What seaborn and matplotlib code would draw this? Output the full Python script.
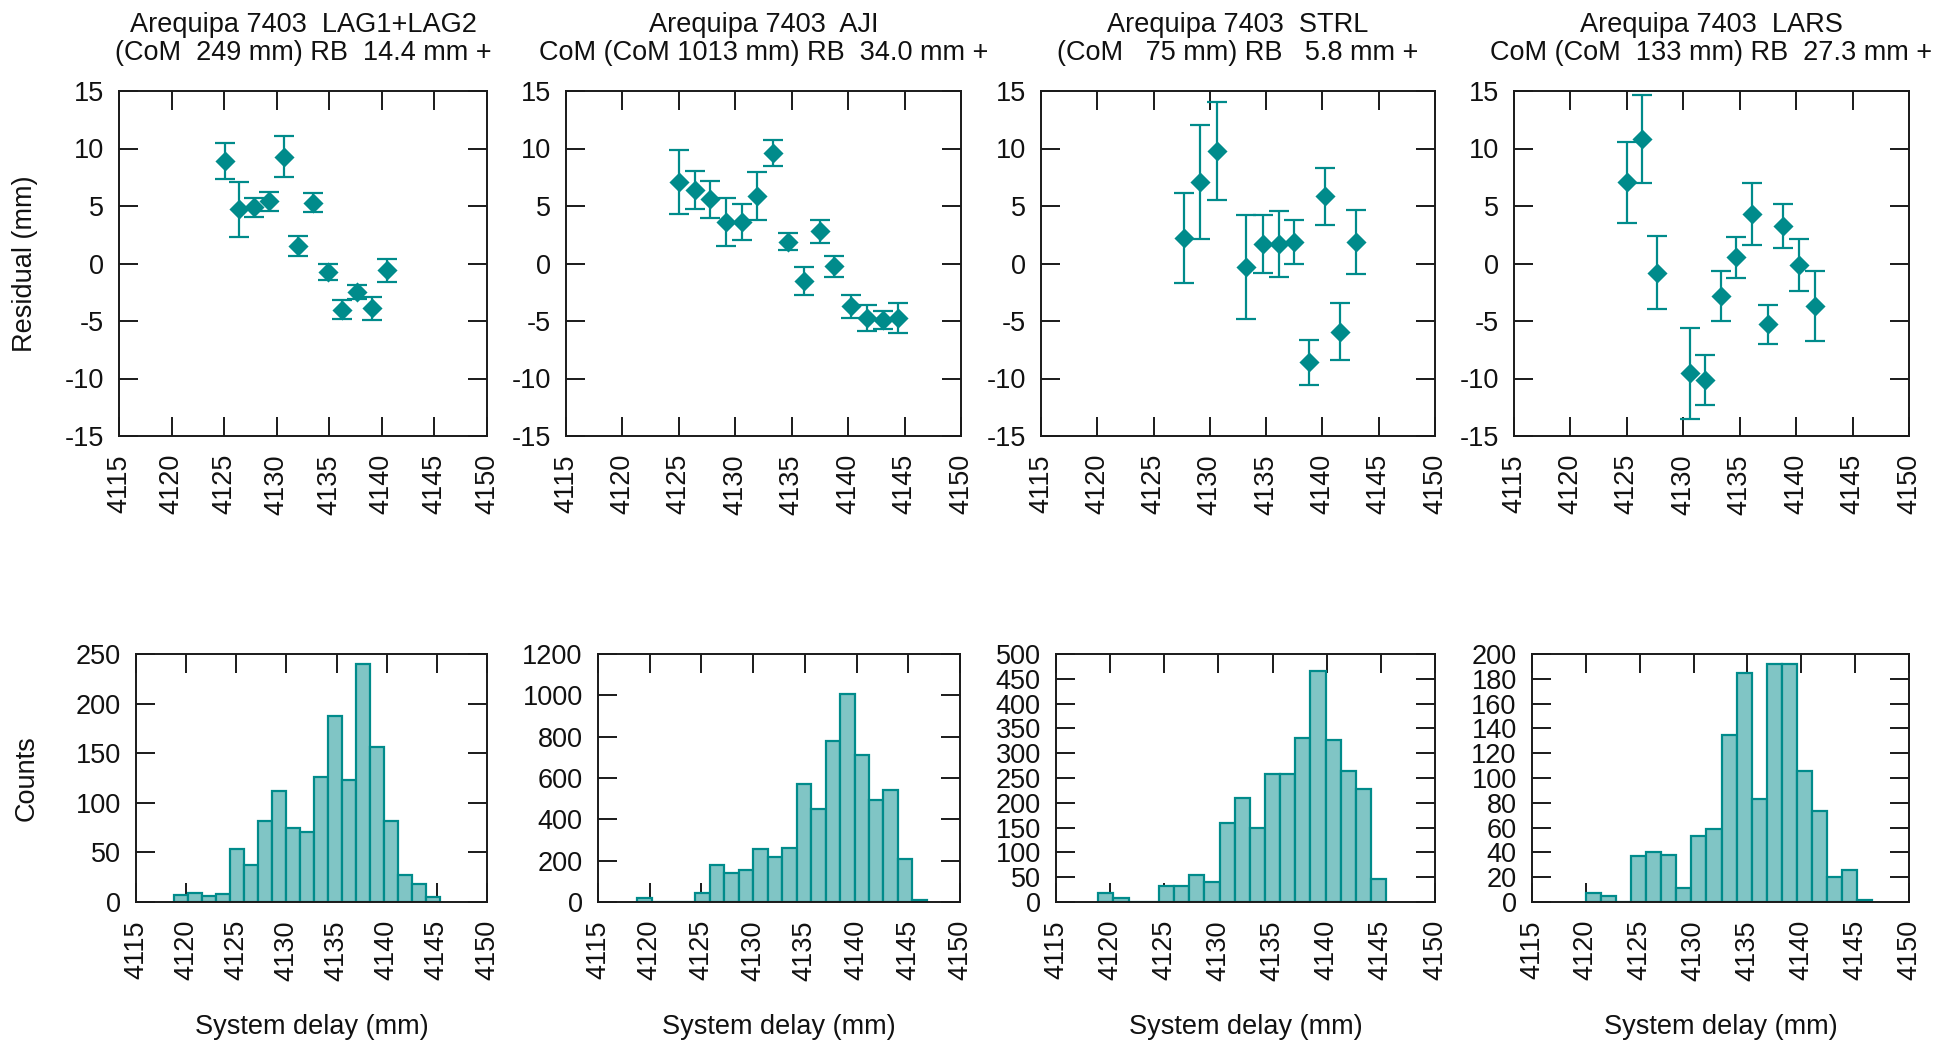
import numpy as np
import pandas as pd
import matplotlib
matplotlib.use("Agg")
import matplotlib.pyplot as plt
import seaborn as sns

sns.set_theme(style="ticks")
plt.rcParams["font.family"] = ["Liberation Sans", "DejaVu Sans"]
plt.rcParams["axes.unicode_minus"] = False

TEAL = "#008b8b"
FILL = "#80c5c5"
FS = 19.5

# ---- panel titles -------------------------------------------------------
titles = [
    "Arequipa 7403  LAG1+LAG2\n(CoM  249 mm) RB  14.4 mm +",
    "Arequipa 7403  AJI\nCoM (CoM 1013 mm) RB  34.0 mm +",
    "Arequipa 7403  STRL\n(CoM   75 mm) RB   5.8 mm +",
    "Arequipa 7403  LARS\nCoM (CoM  133 mm) RB  27.3 mm +",
]

# ---- residuals per system-delay bin (mm) -------------------------------
lag_delay = [4125.05, 4126.45, 4127.85, 4129.25, 4130.65, 4132.05,
             4133.45, 4134.85, 4136.25, 4137.65, 4139.05, 4140.45]
lag_resid = [8.9, 4.7, 4.9, 5.4, 9.3, 1.5, 5.3, -0.7, -4.0, -2.5, -3.9, -0.6]
lag_err = [1.56, 2.39, 0.83, 0.85, 1.82, 0.87, 0.8, 0.7, 0.8, 0.6, 1.0, 1.0]

aji_delay = [4125.03, 4126.42, 4127.75, 4129.17, 4130.56, 4131.92, 4133.31,
             4134.70, 4136.12, 4137.51, 4138.79, 4140.21, 4141.69, 4143.08,
             4144.41]
aji_resid = [7.1, 6.4, 5.6, 3.6, 3.6, 5.9, 9.6, 1.9, -1.55, 2.8, -0.25,
             -3.7, -4.75, -4.9, -4.75]
aji_err = [2.78, 1.68, 1.6, 2.12, 1.58, 2.09, 1.1, 0.73, 1.21, 1.02, 0.92,
           1.0, 1.14, 0.8, 1.3]

strl_delay = [4127.7, 4129.1, 4130.6, 4133.2, 4134.7, 4136.1, 4137.5,
              4138.85, 4140.2, 4141.6, 4143.0]
strl_resid = [2.2, 7.1, 9.8, -0.3, 1.7, 1.7, 1.9, -8.6, 5.85, -5.95, 1.9]
strl_err = [3.92, 4.95, 4.28, 4.49, 2.5, 2.88, 1.9, 1.97, 2.47, 2.48, 2.78]

lars_delay = [4125.0, 4126.35, 4127.7, 4130.6, 4131.95, 4133.3, 4134.65,
              4136.05, 4137.5, 4138.85, 4140.25, 4141.65]
lars_resid = [7.05, 10.85, -0.8, -9.55, -10.15, -2.8, 0.55, 4.3, -5.3,
              3.25, -0.1, -3.7]
lars_err = [3.54, 3.84, 3.15, 3.94, 2.19, 2.19, 1.77, 2.7, 1.68, 1.9,
            2.26, 3.07]

# ---- histogram of system delay (counts per 1.4 mm bin) -----------------
bin_width = 1.4
hist_start = [4118.75, 4118.8, 4118.9, 4120.0]
lag_counts = [7, 9, 6, 8, 53, 37, 82, 112, 75, 71, 126, 187, 123, 240,
              156, 82, 27, 18, 5]
aji_counts = [20, 0, 0, 0, 45, 177, 142, 153, 258, 218, 263, 569, 448,
              779, 1008, 713, 492, 540, 206, 8]
strl_counts = [18, 8, 0, 0, 32, 32, 54, 40, 160, 210, 150, 259, 259, 330,
               466, 326, 264, 227, 46]
lars_counts = [7, 5, 0, 37, 40, 38, 11, 53, 59, 135, 185, 83, 192, 192,
               106, 73, 20, 26, 2]

count_ticks = [np.arange(0, 251, 50), np.arange(0, 1201, 200),
               np.arange(0, 501, 50), np.arange(0, 201, 20)]

residuals = [(lag_delay, lag_resid, lag_err), (aji_delay, aji_resid, aji_err),
             (strl_delay, strl_resid, strl_err),
             (lars_delay, lars_resid, lars_err)]
counts = [lag_counts, aji_counts, strl_counts, lars_counts]

delay_ticks = np.arange(4115, 4151, 5)

# ---- layout (pixel boxes on a 1944 x 1045 canvas) ----------------------
W, H = 1944, 1045
top_boxes = [(119, 487), (566, 961), (1041, 1435), (1514, 1909)]
bot_boxes = [(136, 487), (598, 960), (1056, 1435), (1532, 1909)]
top_y = (91, 436)
bot_y = (654, 902)


def frac(xb, yb):
    x0, x1 = xb
    y0, y1 = yb
    return [x0 / W, 1 - y1 / H, (x1 - x0) / W, (y1 - y0) / H]


fig = plt.figure(figsize=(W / 100, H / 100), dpi=100)
fig.patch.set_facecolor("white")


def style_axes(ax):
    for sp in ax.spines.values():
        sp.set_visible(True)
        sp.set_linewidth(1.4)
        sp.set_color("#1a1a1a")
    ax.tick_params(axis="both", which="major", direction="in", length=13.5,
                   width=1.4, color="#1a1a1a", top=True, right=True,
                   labelsize=FS, labelcolor="#111111")
    ax.tick_params(axis="x", labelrotation=90, pad=13)
    ax.tick_params(axis="y", pad=11)
    ax.set_xlim(4115, 4150)
    ax.set_xticks(delay_ticks)
    ax.set_xlabel("")
    ax.set_ylabel("")


for i in range(4):
    # residual panel
    ax = fig.add_axes(frac(top_boxes[i], top_y))
    x, y, e = residuals[i]
    df = pd.DataFrame({"delay": x, "resid": y, "err": e})
    ax.errorbar(df["delay"], df["resid"], yerr=df["err"], fmt="none",
                ecolor=TEAL, elinewidth=1.6, capsize=7.2, capthick=1.6,
                zorder=2)
    sns.scatterplot(data=df, x="delay", y="resid", ax=ax, marker="D",
                    s=105, color=TEAL, linewidth=0, zorder=3, legend=False)
    style_axes(ax)
    ax.set_ylim(-15, 15)
    ax.set_yticks(np.arange(-15, 16, 5))
    ax.set_title(titles[i], fontsize=FS, pad=22, linespacing=1.1,
                 color="#111111")

    # histogram panel
    axh = fig.add_axes(frac(bot_boxes[i], bot_y))
    c = counts[i]
    edges = [float(hist_start[i] + bin_width * k) for k in range(len(c) + 1)]
    centers = [0.5 * (edges[k] + edges[k + 1]) for k in range(len(c))]
    hd = pd.DataFrame({"delay": centers, "n": c})
    sns.histplot(data=hd, x="delay", weights="n", bins=edges, ax=axh,
                 facecolor=FILL, edgecolor=TEAL, linewidth=1.6, alpha=1,
                 legend=False)
    axh.set_axisbelow(True)
    style_axes(axh)
    yt = count_ticks[i]
    axh.set_ylim(yt[0], yt[-1])
    axh.set_yticks(yt)
    axh.set_xlabel("System delay (mm)", fontsize=FS, color="#111111")
    axh.xaxis.set_label_coords(0.5, -(1027 - bot_y[1]) / (bot_y[1] - bot_y[0]))
    axh.xaxis.label.set_va("center")

fig.text(25 / W, 1 - 263.5 / H, "Residual (mm)", rotation=90, ha="center",
         va="center", fontsize=FS, color="#111111")
fig.text(27 / W, 1 - 778 / H, "Counts", rotation=90, ha="center",
         va="center", fontsize=FS, color="#111111")

fig.savefig("out.png", dpi=100, facecolor="white")
